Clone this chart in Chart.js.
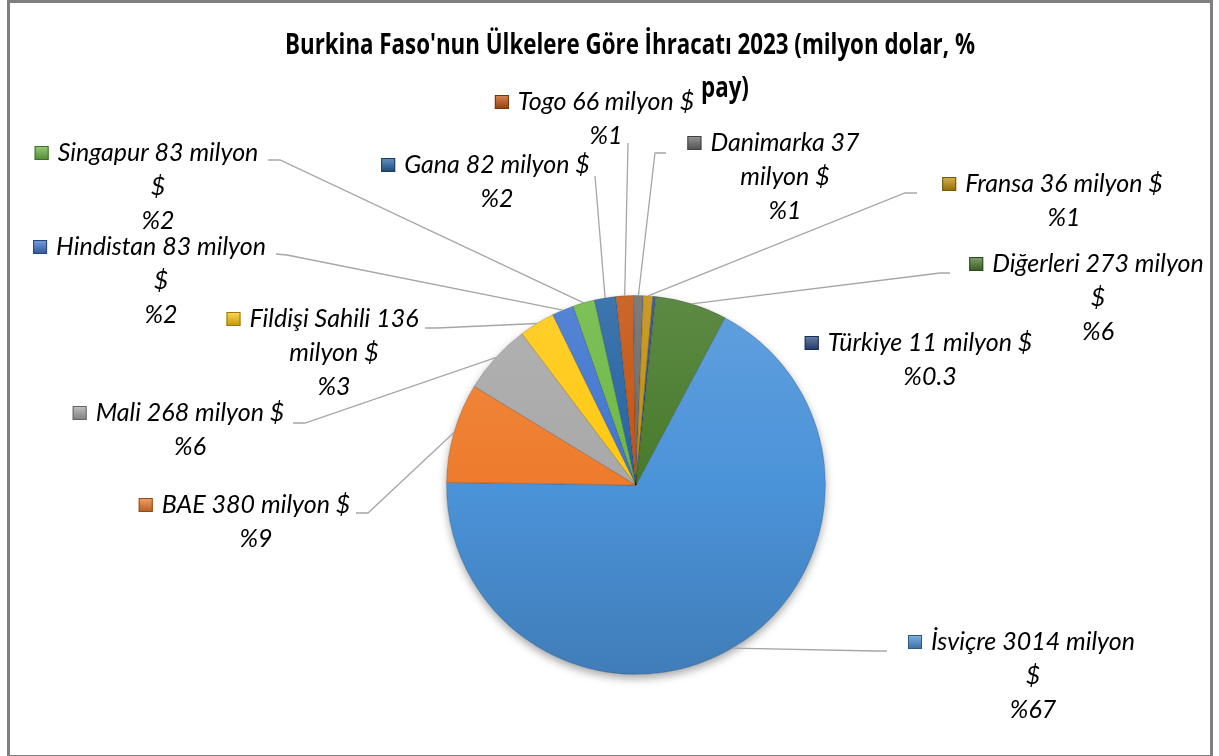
<!DOCTYPE html>
<html>
<head>
<meta charset="utf-8">
<script src="https://cdn.jsdelivr.net/npm/chart.js@4.4.0/dist/chart.umd.min.js"></script>
<style>
  html, body { margin: 0; padding: 0; background: #fff; }
</style>
</head>
<body>
<canvas id="pieChart" width="1219" height="756"></canvas>
<script>
// data
const countries = ["İsviçre", "BAE", "Mali", "Fildişi Sahili", "Hindistan", "Singapur", "Gana", "Togo", "Danimarka", "Fransa", "Türkiye", "Diğerleri"];
const exportValues = [3014, 380, 268, 136, 83, 83, 82, 66, 37, 36, 11, 273];
const shareLabels = ["%67", "%9", "%6", "%3", "%2", "%2", "%2", "%1", "%1", "%1", "%0.3", "%6"];

const sliceColors = ["#4b93d9", "#ee7b2b", "#a8a8a8", "#ffc810", "#3f74cf", "#6cb844", "#2463a3", "#c4520f", "#6a6a6a", "#c38f08", "#2a4b88", "#477a2b"];

// label placement: cx = centre of text, y = first line, wrap: 0 none, 1 "$" alone, 2 "milyon $" alone
const labelLayout = [
  { cx: 1033, y: 642, wrap: 1, lead: [[887, 651], [875, 651]] },
  { cx: 256, y: 505, wrap: 0, lead: [[356, 513], [368, 513]] },
  { cx: 190, y: 413, wrap: 0, lead: [[293, 423], [305, 423]] },
  { cx: 334, y: 319, wrap: 2, lead: [[425, 328], [437, 328]] },
  { cx: 161, y: 247, wrap: 1, lead: [[276, 254], [287, 255]] },
  { cx: 158, y: 153, wrap: 1, lead: [[268, 160], [280, 160]] },
  { cx: 497, y: 165, wrap: 0, lead: [[595, 176], [595, 176]] },
  { cx: 606, y: 102, wrap: 0, lead: [[628, 143], [628, 143]] },
  { cx: 785, y: 143, wrap: 2, lead: [[666, 153], [655, 153]] },
  { cx: 1064, y: 184, wrap: 0, lead: [[917, 193], [905, 193]] },
  { cx: 930, y: 343, wrap: 0, lead: null },
  { cx: 1098, y: 264, wrap: 1, lead: [[950, 273], [940, 273]] }
];

const LABEL_FONT = "italic 25px Lato";
const LINE_GAP = 34;
const TITLE_LINES = ["Burkina Faso'nun Ülkelere Göre İhracatı 2023 (milyon dolar, %", "pay)"];

function hexRgb(h) {
  const n = parseInt(h.slice(1), 16);
  return [(n >> 16) & 255, (n >> 8) & 255, n & 255];
}
function shade(h, amt) {
  // amt > 0 lighter, < 0 darker
  const c = hexRgb(h).map(v => amt > 0 ? v + (255 - v) * amt : v * (1 + amt));
  return `rgb(${c.map(v => Math.round(v)).join(",")})`;
}

function labelLines(i) {
  const head = countries[i] + " " + exportValues[i];
  const w = labelLayout[i].wrap;
  if (w === 1) return [head + " milyon", "$", shareLabels[i]];
  if (w === 2) return [head, "milyon $", shareLabels[i]];
  return [head + " milyon $", shareLabels[i]];
}

const frameAndShadow = {
  id: "frameAndShadow",
  beforeDatasetsDraw(chart) {
    const arc = chart.getDatasetMeta(0).data[0];
    if (!arc) return;
    const c = chart.ctx;
    c.save();
    c.shadowColor = "rgba(0,0,0,0.35)";
    c.shadowBlur = 8;
    c.shadowOffsetY = 4;
    c.fillStyle = "#ffffff";
    c.beginPath();
    c.arc(arc.x, arc.y, arc.outerRadius, 0, Math.PI * 2);
    c.fill();
    c.restore();
  }
};

const labelsPlugin = {
  id: "labelsPlugin",
  afterDraw(chart) {
    const c = chart.ctx;
    const meta = chart.getDatasetMeta(0);
    c.save();

    // leader lines
    c.strokeStyle = "#a6a6a6";
    c.lineWidth = 1.3;
    meta.data.forEach((arc, i) => {
      const L = labelLayout[i];
      if (!L.lead) return;
      const mid = (arc.startAngle + arc.endAngle) / 2;
      const px = arc.x + Math.cos(mid) * arc.outerRadius;
      const py = arc.y + Math.sin(mid) * arc.outerRadius;
      c.beginPath();
      c.moveTo(L.lead[0][0], L.lead[0][1]);
      c.lineTo(L.lead[1][0], L.lead[1][1]);
      c.lineTo(px, py);
      c.stroke();
    });

    // label texts with colour key
    c.font = LABEL_FONT;
    c.textBaseline = "middle";
    c.textAlign = "center";
    c.fillStyle = "#000";
    meta.data.forEach((arc, i) => {
      const L = labelLayout[i];
      const lines = labelLines(i);
      lines.forEach((t, k) => {
        c.fillText(t, L.cx, L.y + k * LINE_GAP);
      });
      const w0 = c.measureText(lines[0]).width;
      const kx = L.cx - w0 / 2 - 23;
      const ky = L.y - 7;
      const g = c.createLinearGradient(0, ky, 0, ky + 14);
      g.addColorStop(0, shade(sliceColors[i], 0.3));
      g.addColorStop(1, shade(sliceColors[i], -0.25));
      c.fillStyle = g;
      c.fillRect(kx, ky, 14, 14);
      c.strokeStyle = shade(sliceColors[i], -0.4);
      c.lineWidth = 1;
      c.strokeRect(kx + 0.5, ky + 0.5, 13, 13);
      c.fillStyle = "#000";
    });

    // title, squeezed to the width of the original first line
    c.font = "bold 28px 'Open Sans'";
    c.textBaseline = "alphabetic";
    const sx = 690 / c.measureText(TITLE_LINES[0]).width;
    c.save();
    c.translate(630, 0);
    c.scale(sx, 1);
    c.fillText(TITLE_LINES[0], 0, 54);
    c.restore();
    c.save();
    c.translate(725, 0);
    c.scale(sx, 1);
    c.fillText(TITLE_LINES[1], 0, 97);
    c.restore();

    // outer frame
    c.strokeStyle = "#7f7f7f";
    c.lineWidth = 3;
    c.strokeRect(8.5, 1.5, 1203, 755);
    c.restore();
  }
};

new Chart(document.getElementById("pieChart"), {
  type: "pie",
  data: {
    labels: countries,
    datasets: [{
      data: exportValues,
      backgroundColor(ctx) {
        const col = sliceColors[ctx.dataIndex];
        const a = ctx.chart.chartArea;
        if (!a) return col;
        const g = ctx.chart.ctx.createLinearGradient(0, a.top, 0, a.bottom);
        g.addColorStop(0, shade(col, 0.12));
        g.addColorStop(0.5, col);
        g.addColorStop(1, shade(col, -0.15));
        return g;
      },
      borderColor: "rgba(0,0,0,0.18)",
      borderWidth: 1
    }]
  },
  options: {
    responsive: false,
    animation: false,
    rotation: 28,
    layout: { padding: { top: 295, bottom: 81, left: 446, right: 393 } },
    plugins: {
      legend: { display: false },
      tooltip: { enabled: false },
      title: { display: false }
    }
  },
  plugins: [frameAndShadow, labelsPlugin]
});
</script>
</body>
</html>
